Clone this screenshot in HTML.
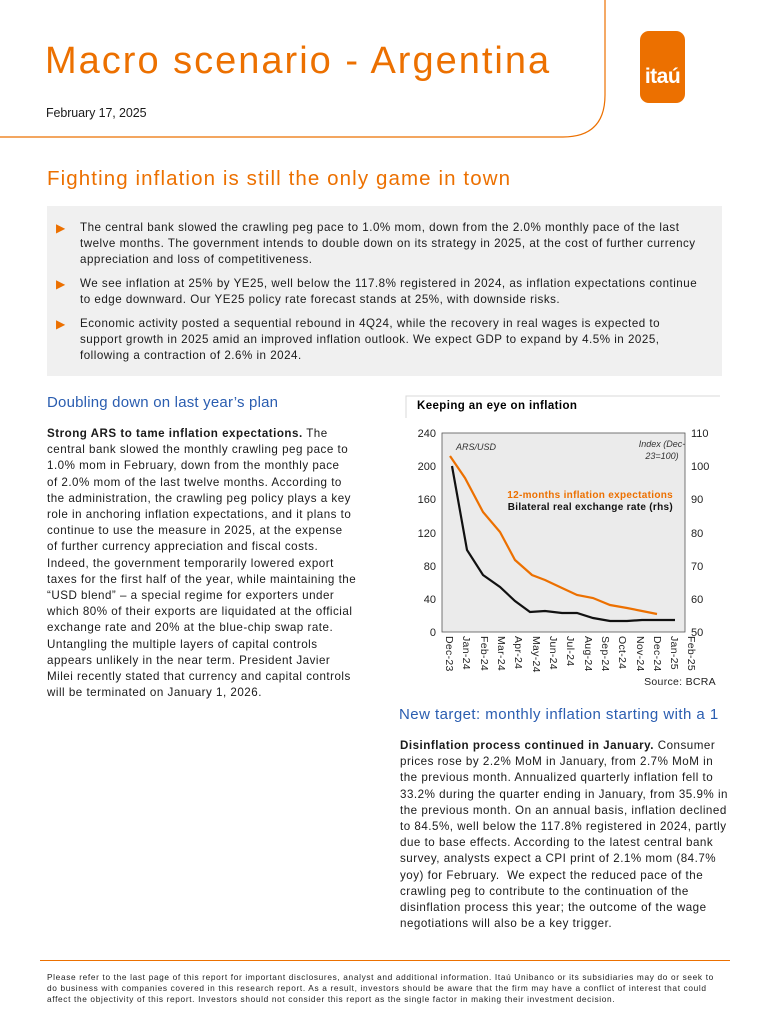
<!DOCTYPE html>
<html><head><meta charset="utf-8"><style>
body{margin:0;width:770px;height:1024px;position:relative;background:#fff;font-family:"Liberation Sans",sans-serif;color:#1a1a1a;overflow:hidden}
.a{position:absolute;white-space:nowrap}
.bl{position:absolute;font-size:11.6px;line-height:16.2px;letter-spacing:0.5px;white-space:nowrap}
</style></head><body>
<svg class="a" style="left:0;top:0" width="770" height="150">
<path d="M605 0 V95 Q605 137 563 137 H0" fill="none" stroke="#ec7000" stroke-width="1.2"/>
<rect x="640" y="31" width="45" height="72" rx="9" fill="#ec7000"/>
<text x="662.5" y="83" text-anchor="middle" fill="#fff" font-family="Liberation Sans" font-weight="bold" font-size="21" letter-spacing="-0.5">itaú</text>
</svg>
<div class="a" style="left:45px;top:40px;font-size:38px;color:#ec7000;letter-spacing:2px">Macro scenario - Argentina</div>
<div class="a" style="left:46px;top:106px;font-size:12.5px;letter-spacing:-0.1px">February 17, 2025</div>
<div class="a" style="left:47px;top:167px;font-size:20.5px;color:#ec7000;letter-spacing:1.1px">Fighting inflation is still the only game in town</div>
<div class="a" style="left:47px;top:206px;width:675px;height:170px;background:#f0f0f0"></div>
<div class="bl" style="left:56px;top:220px;color:#ec7000;font-size:12px">▶</div>
<div class="bl" style="left:80px;top:220px">The central bank slowed the crawling peg pace to 1.0% mom, down from the 2.0% monthly pace of the last<br>twelve months. The government intends to double down on its strategy in 2025, at the cost of further currency<br>appreciation and loss of competitiveness.</div>
<div class="bl" style="left:56px;top:276px;color:#ec7000;font-size:12px">▶</div>
<div class="bl" style="left:80px;top:276px">We see inflation at 25% by YE25, well below the 117.8% registered in 2024, as inflation expectations continue<br>to edge downward. Our YE25 policy rate forecast stands at 25%, with downside risks.</div>
<div class="bl" style="left:56px;top:316px;color:#ec7000;font-size:12px">▶</div>
<div class="bl" style="left:80px;top:316px">Economic activity posted a sequential rebound in 4Q24, while the recovery in real wages is expected to<br>support growth in 2025 amid an improved inflation outlook. We expect GDP to expand by 4.5% in 2025,<br>following a contraction of 2.6% in 2024.</div>

<div class="a" style="left:47px;top:394px;font-size:15px;color:#2a5db0;letter-spacing:0.2px">Doubling down on last year’s plan</div>
<div class="bl" style="left:47px;top:426px">
<b>Strong ARS to tame inflation expectations.</b> The<br>central bank slowed the monthly crawling peg pace to<br>1.0% mom in February, down from the monthly pace<br>of 2.0% mom of the last twelve months. According to<br>the administration, the crawling peg policy plays a key<br>role in anchoring inflation expectations, and it plans to<br>continue to use the measure in 2025, at the expense<br>of further currency appreciation and fiscal costs.<br>Indeed, the government temporarily lowered export<br>taxes for the first half of the year, while maintaining the<br>“USD blend” – a special regime for exporters under<br>which 80% of their exports are liquidated at the official<br>exchange rate and 20% at the blue-chip swap rate.<br>Untangling the multiple layers of capital controls<br>appears unlikely in the near term. President Javier<br>Milei recently stated that currency and capital controls<br>will be terminated on January 1, 2026.</div>

<svg class="a" style="left:400px;top:390px" width="320" height="300" font-family="Liberation Sans">
<path d="M6 28 V6 H320" fill="none" stroke="#d8d8d8" stroke-width="1"/>
<text x="17" y="19" font-size="11.5" font-weight="bold" letter-spacing="0.4">Keeping an eye on inflation</text>
<rect x="42" y="43" width="243" height="199" fill="#ebebeb" stroke="#555" stroke-width="0.8"/>
<g font-size="11" fill="#222">
<text x="36" y="47" text-anchor="end">240</text><text x="36" y="80" text-anchor="end">200</text><text x="36" y="113" text-anchor="end">160</text><text x="36" y="147" text-anchor="end">120</text><text x="36" y="180" text-anchor="end">80</text><text x="36" y="213" text-anchor="end">40</text><text x="36" y="246" text-anchor="end">0</text>
<text x="291" y="47">110</text><text x="291" y="80">100</text><text x="291" y="113">90</text><text x="291" y="147">80</text><text x="291" y="180">70</text><text x="291" y="213">60</text><text x="291" y="246">50</text>
</g>
<g font-size="10.5" fill="#222" letter-spacing="0.3">
<text transform="translate(46,246) rotate(90)">Dec-23</text><text transform="translate(63,246) rotate(90)">Jan-24</text><text transform="translate(81,246) rotate(90)">Feb-24</text><text transform="translate(98,246) rotate(90)">Mar-24</text><text transform="translate(115,246) rotate(90)">Apr-24</text><text transform="translate(133,246) rotate(90)">May-24</text><text transform="translate(150,246) rotate(90)">Jun-24</text><text transform="translate(167,246) rotate(90)">Jul-24</text><text transform="translate(185,246) rotate(90)">Aug-24</text><text transform="translate(202,246) rotate(90)">Sep-24</text><text transform="translate(219,246) rotate(90)">Oct-24</text><text transform="translate(237,246) rotate(90)">Nov-24</text><text transform="translate(254,246) rotate(90)">Dec-24</text><text transform="translate(271,246) rotate(90)">Jan-25</text><text transform="translate(288,246) rotate(90)">Feb-25</text>
</g>
<text x="56" y="60" font-size="9" font-style="italic" fill="#333">ARS/USD</text>
<text x="262" y="57" font-size="9" font-style="italic" fill="#333" text-anchor="middle">Index (Dec-</text>
<text x="262" y="69" font-size="9" font-style="italic" fill="#333" text-anchor="middle">23=100)</text>
<text x="273" y="108" font-size="10" font-weight="bold" fill="#ec7000" text-anchor="end" letter-spacing="0.3">12-months inflation expectations</text>
<text x="273" y="120" font-size="10" font-weight="bold" fill="#111" text-anchor="end" letter-spacing="0.3">Bilateral real exchange rate (rhs)</text>
<polyline fill="none" stroke="#ec7000" stroke-width="2.2" points="50,66 65,88 83,122 100,142 115,170 132,185 145,190 162,198 177,205 193,208 210,215 227,218 242,221 257,224"/>
<polyline fill="none" stroke="#111" stroke-width="2.2" points="52,76 67,160 83,185 100,197 115,211 130,222 145,221 162,223 177,223 193,228 210,231 227,231 242,230 257,230 275,230"/>
<text x="316" y="295" font-size="10.5" text-anchor="end" fill="#222" letter-spacing="0.3">Source: BCRA</text>
</svg>

<div class="a" style="left:399px;top:706px;font-size:15px;color:#2a5db0;letter-spacing:0.45px">New target: monthly inflation starting with a 1</div>
<div class="bl" style="left:400px;top:738px">
<b>Disinflation process continued in January.</b> Consumer<br>prices rose by 2.2% MoM in January, from 2.7% MoM in<br>the previous month. Annualized quarterly inflation fell to<br>33.2% during the quarter ending in January, from 35.9% in<br>the previous month. On an annual basis, inflation declined<br>to 84.5%, well below the 117.8% registered in 2024, partly<br>due to base effects. According to the latest central bank<br>survey, analysts expect a CPI print of 2.1% mom (84.7%<br>yoy) for February.&nbsp; We expect the reduced pace of the<br>crawling peg to contribute to the continuation of the<br>disinflation process this year; the outcome of the wage<br>negotiations will also be a key trigger.</div>

<div class="a" style="left:40px;top:960px;width:690px;border-top:1px solid #ec7000"></div>
<div class="a" style="left:47px;top:972px;font-size:8.3px;line-height:11px;color:#222;letter-spacing:0.65px">Please refer to the last page of this report for important disclosures, analyst and additional information. Itaú Unibanco or its subsidiaries may do or seek to<br>do business with companies covered in this research report. As a result, investors should be aware that the firm may have a conflict of interest that could<br>affect the objectivity of this report. Investors should not consider this report as the single factor in making their investment decision.</div>
</body></html>
